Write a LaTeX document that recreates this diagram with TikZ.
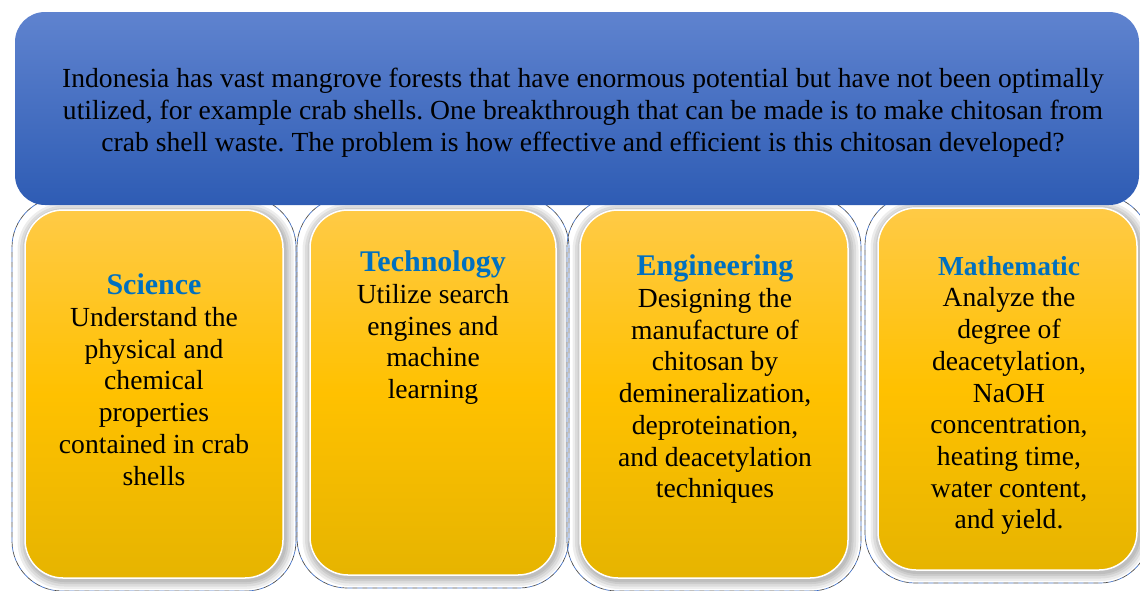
\documentclass[tikz,border=0pt]{standalone}
\usepackage{fontspec}
\setmainfont{Liberation Serif}
\frenchspacing
\definecolor{bluetop}{RGB}{95,131,207}
\definecolor{bluebot}{RGB}{46,92,180}
\definecolor{goldtop}{RGB}{255,202,70}
\definecolor{goldmid}{RGB}{255,193,0}
\definecolor{goldbot}{RGB}{230,180,0}
\definecolor{headblue}{RGB}{0,112,192}
\definecolor{rimblue}{RGB}{68,114,196}
\newcommand{\headfont}[1][30]{\fontsize{#1}{31.7}\selectfont\bfseries\color{headblue}}
\begin{document}
\begin{tikzpicture}[x=1pt,y=-1pt,
  rim/.style={rounded corners=50pt, line width=0.7pt},
  halo/.style={rounded corners=38pt, draw=black, draw opacity=0.07, line width=#1},
  card/.style={rounded corners=38pt, top color=goldtop, bottom color=goldbot, middle color=goldmid},
  banner/.style={rounded corners=30pt, top color=bluetop, bottom color=bluebot},
  cardtext/.style={anchor=north, align=center, inner sep=0pt, font=\fontsize{27.6}{31.7}\selectfont}]
  \useasboundingbox (0,0) rectangle (1140,590);
  % dashed rims behind the cards, blue and black dashes in turn
  \foreach \l/\t/\r/\b in {25/210/283/578, 310/210/556/575, 580/210/848/578, 878/208/1137/570} {
    \draw[rim, draw=rimblue, dash pattern=on 5pt off 5pt] (\l-13,\t-13) rectangle (\r+13,\b+13);
    \draw[rim, draw=black!70, dash pattern=on 5pt off 5pt, dash phase=5pt] (\l-13,\t-13) rectangle (\r+13,\b+13);
  }
  % soft shadow, then the gold card
  \foreach \l/\t/\r/\b in {25/210/283/578, 310/210/556/575, 580/210/848/578, 878/208/1137/570} {
    \foreach \w in {18,13,8,4}
      \draw[halo=\w pt] (\l+1.5,\t+2) rectangle (\r+1.5,\b+2);
    \draw[card, draw=white, line width=1.5pt] (\l,\t) rectangle (\r,\b);
  }
  % question banner on top
  \shade[banner] (15,12) rectangle (1139,205);
  \node[anchor=north, align=center, inner sep=0pt, font=\fontsize{27.6}{32}\selectfont] (problem) at (583,68)
    {Indonesia has vast mangrove forests that have enormous potential but have not been optimally\\
     utilized, for example crab shells. One breakthrough that can be made is to make chitosan from\\
     crab shell waste. The problem is how effective and efficient is this chitosan developed?};
  \node[cardtext] (science) at (154,273.8)
    {{\headfont Science}\\Understand the\\physical and\\chemical\\properties\\contained in crab\\shells};
  \node[cardtext] (technology) at (433,250.8)
    {{\headfont Technology}\\Utilize search\\engines and\\machine\\learning};
  \node[cardtext] (engineering) at (715,254.8)
    {{\headfont Engineering}\\Designing the\\manufacture of\\chitosan by\\demineralization,\\deproteination,\\and deacetylation\\techniques};
  \node[cardtext] (mathematic) at (1009,256)
    {{\headfont[27.5] Mathematic}\\Analyze the\\degree of\\deacetylation,\\NaOH\\concentration,\\heating time,\\water content,\\and yield.};
\end{tikzpicture}
\end{document}
